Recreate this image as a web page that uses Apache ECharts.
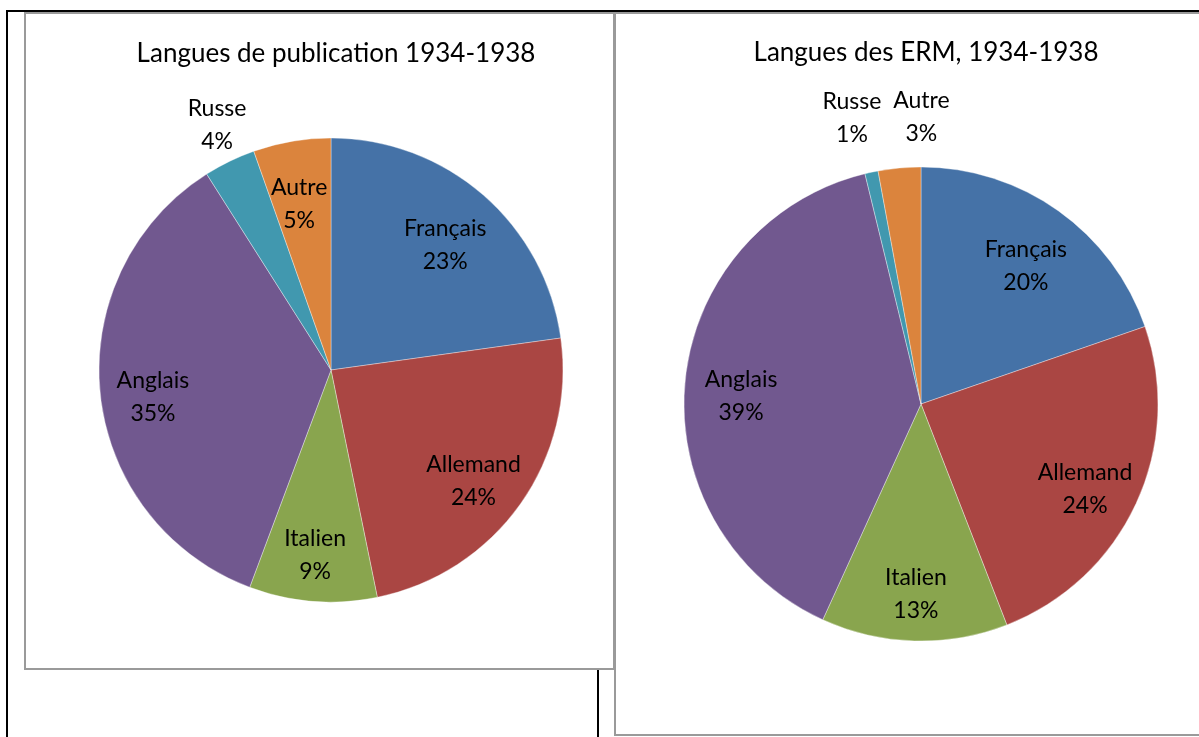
<!DOCTYPE html>
<html>
<head>
<meta charset="utf-8">
<script src="https://cdn.jsdelivr.net/npm/echarts@6/dist/echarts.min.js"></script>
<style>
html,body{margin:0;padding:0;background:#fff;}
#c{width:1199px;height:737px;}
</style>
</head>
<body>
<div id="c"></div>
<script>
// ---- data ----
const categories = ['Français', 'Allemand', 'Italien', 'Anglais', 'Russe', 'Autre'];
const publicationValues = [22.8, 24.0, 8.9, 35.3, 3.6, 5.4];
const ermValues = [19.7, 24.4, 12.7, 39.4, 0.9, 2.9];
const titleLeft = 'Langues de publication 1934-1938';
const titleRight = 'Langues des ERM, 1934-1938';
const outsideLeft = ['Russe'];
const outsideRight = ['Russe', 'Autre'];

const colors = ['#4572A7', '#AA4643', '#89A54E', '#71588F', '#4198AF', '#DB843D'];
const FONT = 'Lato, "Open Sans", sans-serif';

const chart = echarts.init(document.getElementById('c'));

function pieData(vals) {
  return categories.map((n, i) => ({ name: n, value: vals[i] }));
}
function labelData(vals, outside, wantOutside) {
  return categories.map((n, i) => {
    const isOut = outside.indexOf(n) >= 0;
    return { name: n, value: vals[i], label: { show: isOut === wantOutside } };
  });
}
const labelStyle = {
  position: 'inside',
  color: '#000',
  fontFamily: FONT,
  fontSize: 23,
  lineHeight: 33,
  formatter: p => p.name + '\n' + Math.round(p.percent) + '%'
};
function visiblePie(vals, center, r) {
  return {
    type: 'pie', center: center, radius: [0, r], startAngle: 90, clockwise: true,
    data: pieData(vals), label: { show: false }, labelLine: { show: false },
    itemStyle: { borderColor: 'rgba(255,255,255,0.6)', borderWidth: 0.6 },
    emphasis: { disabled: true }, silent: true, animation: false
  };
}
function labelRing(vals, center, r0, r1, outside, wantOutside, layout) {
  const s = {
    type: 'pie', center: center, radius: [r0, r1], startAngle: 90, clockwise: true,
    data: labelData(vals, outside, wantOutside),
    itemStyle: { color: 'rgba(0,0,0,0)', borderWidth: 0 },
    label: labelStyle, labelLine: { show: false }, avoidLabelOverlap: false,
    emphasis: { disabled: true }, silent: true, animation: false, z: 5
  };
  if (layout) s.labelLayout = layout;
  return s;
}

const cL = [331, 370], rL = 232;
const cR = [921, 404], rR = 237;

chart.setOption({
  color: colors,
  animation: false,
  title: [
    { text: titleLeft, left: 331, top: 36, textAlign: 'center',
      textStyle: { fontFamily: FONT, fontSize: 26, fontWeight: 'normal', color: '#000' } },
    { text: titleRight, left: 921, top: 35, textAlign: 'center',
      textStyle: { fontFamily: FONT, fontSize: 26, fontWeight: 'normal', color: '#000' } }
  ],
  graphic: [
    { type: 'rect', shape: { x: 25, y: 13, width: 589, height: 656 }, style: { fill: 'none', stroke: '#9a9a9a', lineWidth: 2 }, silent: true },
    { type: 'rect', shape: { x: 615, y: 13, width: 600, height: 722 }, style: { fill: 'none', stroke: '#9a9a9a', lineWidth: 2 }, silent: true },
    { type: 'line', shape: { x1: 6, y1: 11, x2: 1199, y2: 11 }, style: { stroke: '#000', lineWidth: 2 }, silent: true },
    { type: 'line', shape: { x1: 7, y1: 10, x2: 7, y2: 737 }, style: { stroke: '#000', lineWidth: 2 }, silent: true },
    { type: 'line', shape: { x1: 598, y1: 670, x2: 598, y2: 737 }, style: { stroke: '#000', lineWidth: 2 }, silent: true }
  ],
  series: [
    visiblePie(publicationValues, cL, rL),
    labelRing(publicationValues, cL, rL * 0.50, rL, outsideLeft, false, () => ({ dx: -2, dy: 9 })),
    labelRing(publicationValues, cL, rL, rL * 1.32, outsideLeft, true, () => ({ dx: 5 })),
    visiblePie(ermValues, cR, rR),
    labelRing(ermValues, cR, rR * 0.50, rR, outsideRight, false, () => ({ dy: 9 })),
    labelRing(ermValues, cR, rR, rR * 1.44, outsideRight, true,
      p => (categories[p.dataIndex] === 'Autre' ? { dx: 27, dy: 4 } : { dx: -8 }))
  ]
});
</script>
</body>
</html>
